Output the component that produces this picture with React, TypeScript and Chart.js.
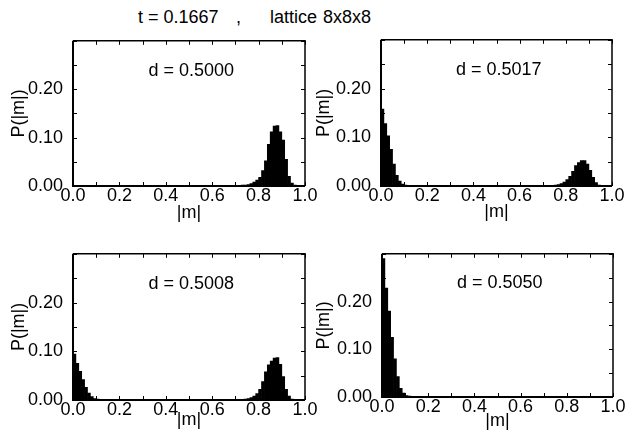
import React, { useEffect, useRef } from 'react';
import { Chart, registerables } from 'chart.js';

Chart.register(...registerables);

// ---------- data ----------
// histogram bin centres (bin width 0.0125)
const LOW_BINS = [0.00625, 0.01875, 0.03125, 0.04375, 0.05625, 0.06875, 0.08125, 0.09375, 0.10625, 0.11875, 0.13125];
const HIGH_BINS = [
  0.70625, 0.71875, 0.73125, 0.74375, 0.75625, 0.76875, 0.78125, 0.79375, 0.80625, 0.81875, 0.83125,
  0.84375, 0.85625, 0.86875, 0.88125, 0.89375, 0.90625, 0.91875, 0.93125, 0.94375, 0.95625, 0.96875,
];

// P(|m|) for each panel, low-|m| peak and high-|m| peak
const D5000_LOW = [0, 0, 0, 0, 0, 0, 0, 0, 0, 0, 0];
const D5000_HIGH = [0.001, 0.001, 0.002, 0.002, 0.003, 0.005, 0.008, 0.012, 0.018, 0.032, 0.052, 0.086, 0.112, 0.124, 0.125, 0.112, 0.095, 0.055, 0.020, 0.006, 0.002, 0];

const D5017_LOW = [0.158, 0.128, 0.103, 0.075, 0.045, 0.022, 0.010, 0.004, 0.002, 0.001, 0];
const D5017_HIGH = [0.001, 0.001, 0.001, 0.001, 0.002, 0.003, 0.005, 0.008, 0.013, 0.020, 0.030, 0.042, 0.048, 0.052, 0.052, 0.045, 0.032, 0.018, 0.007, 0.002, 0.001, 0];

const D5008_LOW = [0.094, 0.075, 0.059, 0.042, 0.026, 0.014, 0.007, 0.003, 0.002, 0.001, 0];
const D5008_HIGH = [0.001, 0.001, 0.001, 0.002, 0.003, 0.005, 0.008, 0.013, 0.022, 0.038, 0.058, 0.072, 0.080, 0.086, 0.087, 0.073, 0.048, 0.022, 0.008, 0.002, 0.001, 0];

const D5050_LOW = [0.290, 0.228, 0.180, 0.125, 0.080, 0.043, 0.018, 0.008, 0.003, 0.002, 0.001];
const D5050_HIGH = [0, 0, 0, 0, 0, 0, 0, 0, 0, 0, 0, 0, 0, 0, 0, 0, 0, 0, 0, 0, 0, 0];

const PANEL_LABELS = ['d = 0.5000', 'd = 0.5017', 'd = 0.5008', 'd = 0.5050'];
const X_TICK_MARKS = [0, 0.1, 0.2, 0.3, 0.4, 0.5, 0.6, 0.7, 0.8, 0.9, 1.0];
const Y_TICK_MARKS = [0, 0.05, 0.1, 0.15, 0.2, 0.25, 0.3];
const X_MIN = 0;
const X_MAX = 1;
const Y_MIN = 0;
const Y_MAX = 0.3;
const LABEL_AT = { x: 0.51, y: 0.238 };
const TITLE_PARTS = ['t = 0.1667', ',', 'lattice', '8x8x8'];
const X_TITLE = '|m|';
const Y_TITLE = 'P(|m|)';

// ---------- styling ----------
const FONT = '"Liberation Sans", Arial, Helvetica, sans-serif';

const framePlugin = {
  id: 'frame',
  afterDatasetsDraw(chart: any, _args: any, opts: any) {
    const { ctx, chartArea: a, scales } = chart;
    const x = scales.x;
    const y = scales.y;
    ctx.save();
    ctx.strokeStyle = '#000';
    ctx.lineWidth = 1;
    ctx.beginPath();
    X_TICK_MARKS.forEach((v) => {
      const px = Math.round(x.getPixelForValue(v)) + 0.5;
      ctx.moveTo(px, a.bottom);
      ctx.lineTo(px, a.bottom - 4);
      ctx.moveTo(px, a.top);
      ctx.lineTo(px, a.top + 4);
    });
    Y_TICK_MARKS.forEach((v) => {
      const py = Math.round(y.getPixelForValue(v)) + 0.5;
      ctx.moveTo(a.left, py);
      ctx.lineTo(a.left + 4, py);
      ctx.moveTo(a.right, py);
      ctx.lineTo(a.right - 4, py);
    });
    ctx.stroke();
    // frame
    ctx.lineWidth = 2;
    ctx.beginPath();
    ctx.moveTo(a.left, a.top);
    ctx.lineTo(a.left, a.bottom);
    ctx.lineTo(a.right, a.bottom);
    ctx.stroke();
    ctx.lineWidth = 1.5;
    ctx.beginPath();
    ctx.moveTo(a.left, a.top);
    ctx.lineTo(a.right, a.top);
    ctx.lineTo(a.right, a.bottom);
    ctx.stroke();
    // panel label
    ctx.fillStyle = '#000';
    ctx.font = `18px ${FONT}`;
    ctx.textAlign = 'center';
    ctx.textBaseline = 'middle';
    ctx.fillText(opts.text, x.getPixelForValue(LABEL_AT.x), y.getPixelForValue(LABEL_AT.y));
    ctx.restore();
  },
};

type PanelLayout = {
  left: number;
  top: number;
  width: number;
  height: number;
  yWidth: number;
  xHeight: number;
  padTop: number;
  padRight: number;
  yTitlePad: number;
};

function Panel({ low, high, label, layout }: { low: number[]; high: number[]; label: string; layout: PanelLayout }) {
  const ref = useRef<HTMLCanvasElement>(null);
  useEffect(() => {
    if (!ref.current) return;
    const points = [
      ...LOW_BINS.map((b, i) => ({ x: b, y: low[i] })),
      ...HIGH_BINS.map((b, i) => ({ x: b, y: high[i] })),
    ];
    const chart = new Chart(ref.current, {
      type: 'bar',
      data: {
        datasets: [
          {
            data: points,
            backgroundColor: '#000',
            borderWidth: 0,
            categoryPercentage: 1,
            barPercentage: 1,
          } as any,
        ],
      },
      options: {
        animation: false,
        responsive: false,
        maintainAspectRatio: false,
        events: [],
        layout: { padding: { left: 0, top: layout.padTop, right: layout.padRight, bottom: 0 } },
        plugins: {
          legend: { display: false },
          tooltip: { enabled: false },
          frame: { text: label },
        } as any,
        scales: {
          x: {
            type: 'linear',
            min: X_MIN,
            max: X_MAX,
            offset: false,
            grid: { display: false, drawTicks: false, offset: false },
            border: { display: false },
            ticks: {
              stepSize: 0.2,
              autoSkip: false,
              maxRotation: 0,
              padding: 1,
              color: '#000',
              font: { family: FONT, size: 18, lineHeight: 1 },
              callback: (v: any) => Number(v).toFixed(1),
            },
            title: {
              display: true,
              text: X_TITLE,
              color: '#000',
              font: { family: FONT, size: 18 },
              padding: 0,
            },
            afterFit: (s: any) => {
              s.height = layout.xHeight;
            },
          } as any,
          y: {
            type: 'linear',
            min: Y_MIN,
            max: Y_MAX,
            grid: { display: false, drawTicks: false },
            border: { display: false },
            ticks: {
              stepSize: 0.1,
              padding: 10,
              color: '#000',
              font: { family: FONT, size: 18 },
              callback: (v: any) => (Number(v) > 0.25 ? '' : Number(v).toFixed(2)),
            },
            title: {
              display: true,
              text: Y_TITLE,
              color: '#000',
              font: { family: FONT, size: 18 },
              padding: { top: layout.yTitlePad, bottom: 0 },
            },
            afterFit: (s: any) => {
              s.width = layout.yWidth;
            },
          } as any,
        },
      },
      plugins: [framePlugin],
    });
    return () => chart.destroy();
  }, []);
  return (
    <canvas
      ref={ref}
      width={layout.width}
      height={layout.height}
      style={{ position: 'absolute', left: layout.left, top: layout.top, width: layout.width, height: layout.height }}
    />
  );
}

const LAYOUTS: PanelLayout[] = [
  { left: 0, top: 20, width: 320, height: 204, yWidth: 73, xHeight: 38, padTop: 15, padRight: 15, yTitlePad: 8 },
  { left: 310, top: 19, width: 317, height: 204, yWidth: 71, xHeight: 37, padTop: 15, padRight: 15, yTitlePad: 3 },
  { left: 0, top: 233, width: 320, height: 198, yWidth: 73, xHeight: 31, padTop: 15, padRight: 15, yTitlePad: 8 },
  { left: 310, top: 233, width: 317, height: 199, yWidth: 72, xHeight: 35, padTop: 15, padRight: 14, yTitlePad: 3 },
];

const TITLE_LEFTS = [138, 236, 270, 323];

export default function App() {
  const titleStyle: React.CSSProperties = {
    position: 'absolute',
    top: 8,
    fontFamily: FONT,
    fontSize: 18,
    lineHeight: '18px',
    color: '#000',
    whiteSpace: 'pre',
  };
  return (
    <div style={{ position: 'absolute', left: 0, top: 0, width: 627, height: 439, background: '#fff', overflow: 'hidden' }}>
      {TITLE_PARTS.map((t, i) => (
        <div key={i} style={{ ...titleStyle, left: TITLE_LEFTS[i] }}>
          {t}
        </div>
      ))}
      <Panel low={D5000_LOW} high={D5000_HIGH} label={PANEL_LABELS[0]} layout={LAYOUTS[0]} />
      <Panel low={D5017_LOW} high={D5017_HIGH} label={PANEL_LABELS[1]} layout={LAYOUTS[1]} />
      <Panel low={D5008_LOW} high={D5008_HIGH} label={PANEL_LABELS[2]} layout={LAYOUTS[2]} />
      <Panel low={D5050_LOW} high={D5050_HIGH} label={PANEL_LABELS[3]} layout={LAYOUTS[3]} />
    </div>
  );
}
